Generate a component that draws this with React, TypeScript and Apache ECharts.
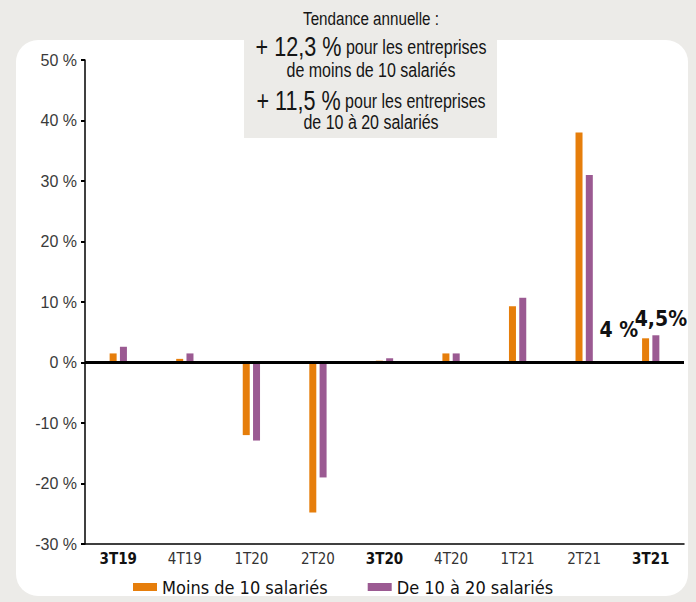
import React, { useEffect, useRef } from "react";
import * as echarts from "echarts";

const categories = ["3T19", "4T19", "1T20", "2T20", "3T20", "4T20", "1T21", "2T21", "3T21"];
const boldCategories = ["3T19", "3T20", "3T21"];
const moinsDe10 = [1.5, 0.6, -12.0, -24.8, 0.3, 1.5, 9.3, 38.0, 4];
const de10a20 = [2.6, 1.5, -12.9, -19.0, 0.7, 1.5, 10.7, 31.0, 4.5];
const seriesNames = ["Moins de 10 salariés", "De 10 à 20 salariés"];
const labelledIndex = 8;
const yTicks = { min: -30, max: 50, interval: 10 };

const COND = "'DejaVu Sans Condensed', 'Liberation Sans', sans-serif";
const REG = "'Liberation Sans', Arial, sans-serif";
const ORANGE = "#e67e0b";
const PURPLE = "#9b5a92";
const BG = "#ecebe8";
const SQ = 0.8;
const INK = "#151515";

const annText = (y: number, text: string, size: number) => ({
  type: "text",
  x: 371,
  y,
  scaleX: SQ,
  style: {
    text,
    fontFamily: REG,
    fontSize: size,
    fill: INK,
    textAlign: "center",
    textVerticalAlign: "middle",
  },
});

const annRich = (y: number, big: string, small: string) => ({
  type: "text",
  x: 371,
  y,
  scaleX: SQ,
  style: {
    text: `{big|${big}}{sm| ${small}}`,
    textAlign: "center",
    textVerticalAlign: "middle",
    rich: {
      big: { fontFamily: REG, fontSize: 27, fill: INK },
      sm: { fontFamily: REG, fontSize: 20, fill: INK },
    },
  },
});

export default function App() {
  const ref = useRef<HTMLDivElement>(null);
  useEffect(() => {
    if (!ref.current) return;
    const chart = echarts.init(ref.current, undefined, { renderer: "svg" });
    const mkData = (arr: number[], labelCfg: any) =>
      arr.map((v, i) => (i === labelledIndex ? { value: v, label: labelCfg } : v));
    chart.setOption({
      animation: false,
      backgroundColor: "transparent",
      grid: { left: 85, right: 12, top: 60, bottom: 58, containLabel: false },
      legend: {
        left: 133,
        top: 578,
        padding: 0,
        itemWidth: 24,
        itemHeight: 8,
        itemGap: 40,
        icon: "rect",
        textStyle: { fontFamily: COND, fontSize: 18, color: "#111" },
        data: seriesNames,
      },
      graphic: [
        {
          type: "rect",
          shape: { x: 244, y: 38, width: 253, height: 100 },
          style: { fill: BG },
          z: -1,
        },
        annText(18, "Tendance annuelle :", 19),
        annRich(47, "+ 12,3 %", "pour les entreprises"),
        annText(70, "de moins de 10 salariés", 20),
        annRich(101, "+ 11,5 %", "pour les entreprises"),
        annText(122, "de 10 à 20 salariés", 20),
      ],
      xAxis: {
        type: "category",
        data: categories,
        axisLine: { onZero: false, lineStyle: { color: "#000", width: 1.5 } },
        axisTick: { show: false },
        axisLabel: {
          margin: 7,
          formatter: (v: string) => (boldCategories.includes(v) ? `{b|${v}}` : `{n|${v}}`),
          rich: {
            b: { fontFamily: COND, fontSize: 15, fontWeight: "bold", color: "#111" },
            n: { fontFamily: COND, fontSize: 15, color: "#333" },
          },
        },
      },
      yAxis: {
        type: "value",
        min: yTicks.min,
        max: yTicks.max,
        interval: yTicks.interval,
        axisLine: { show: true, lineStyle: { color: "#000", width: 1.5 } },
        axisTick: { show: true, length: 4, lineStyle: { color: "#000", width: 2 } },
        splitLine: { show: false },
        axisLabel: {
          margin: 8,
          fontFamily: REG,
          fontSize: 16,
          color: "#3a3a3a",
          formatter: (v: number) => `${v} %`,
        },
      },
      series: [
        {
          name: seriesNames[0],
          type: "bar",
          barWidth: 7,
          barGap: "47%",
          itemStyle: { color: ORANGE },
          data: mkData(moinsDe10, {
            show: true,
            position: [-4, -8],
            align: "right",
            verticalAlign: "middle",
            fontFamily: COND,
            fontSize: 21,
            fontWeight: "bold",
            color: "#111",
            formatter: (p: any) => `${p.value} %`,
          }),
          markLine: {
            silent: true,
            symbol: "none",
            label: { show: false },
            lineStyle: { color: "#000", width: 3, type: "solid" },
            data: [{ yAxis: 0 }],
            z: 5,
          },
        },
        {
          name: seriesNames[1],
          type: "bar",
          barWidth: 7,
          itemStyle: { color: PURPLE },
          data: mkData(de10a20, {
            show: true,
            position: "top",
            distance: 6,
            offset: [5, 0],
            fontFamily: COND,
            fontSize: 21,
            fontWeight: "bold",
            color: "#111",
            formatter: (p: any) => `${String(p.value).replace(".", ",")}%`,
          }),
        },
      ],
    });
    return () => chart.dispose();
  }, []);
  return (
    <div
      style={{
        position: "absolute",
        left: 0,
        top: 0,
        width: 696,
        height: 602,
        background: BG,
        overflow: "hidden",
      }}
    >
      <div
        style={{
          position: "absolute",
          left: 16,
          top: 40,
          width: 672,
          height: 556,
          background: "#fff",
          borderRadius: 22,
        }}
      />
      <div ref={ref} style={{ position: "absolute", left: 0, top: 0, width: 696, height: 602 }} />
    </div>
  );
}
